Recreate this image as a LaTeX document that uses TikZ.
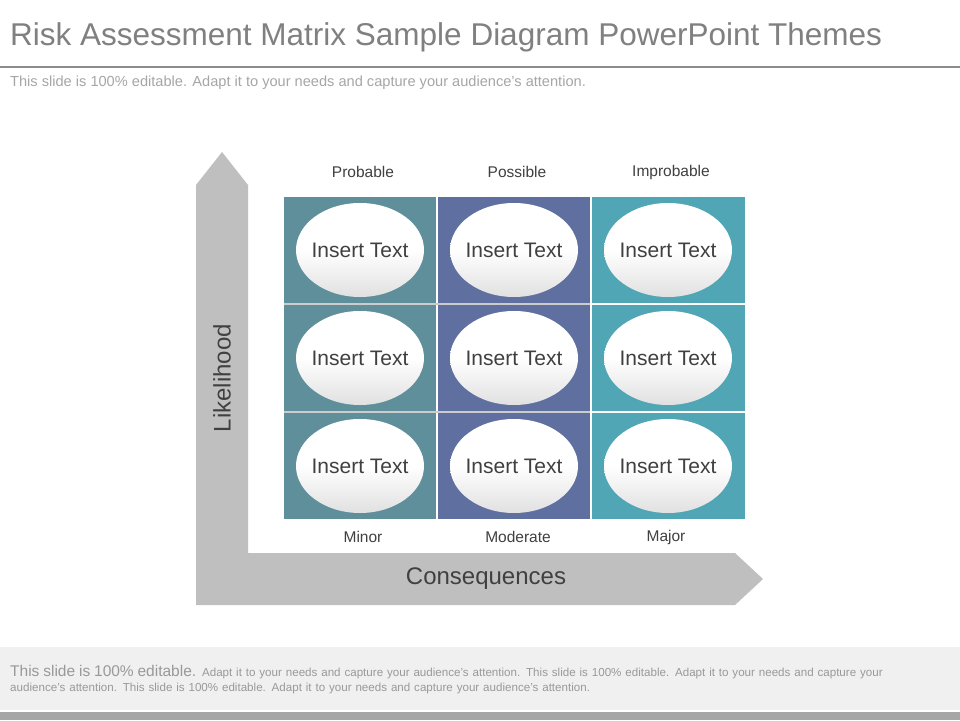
\documentclass[tikz,border=0pt]{standalone}
\usepackage{fontspec}
\setmainfont{Liberation Sans}
\usetikzlibrary{shapes.geometric}
\definecolor{cA}{HTML}{5F8F9B}
\definecolor{cB}{HTML}{5F6F9F}
\definecolor{cC}{HTML}{50A6B5}
\definecolor{gar}{HTML}{BFBFBF}
\definecolor{tx}{HTML}{404040}
\begin{document}
\begin{tikzpicture}[x=1pt,y=-1pt,
  oval/.style={ellipse,minimum width=128pt,minimum height=94pt,inner sep=0pt,top color=white,bottom color=black!12,middle color=white,draw=none},
  otext/.style={font=\fontsize{21}{21}\selectfont,text=tx},
  lab/.style={font=\fontsize{15.5}{15.5}\selectfont,text=tx}]
\useasboundingbox (0,0) rectangle (960,720);
\fill[white] (0,0) rectangle (960,720);
\node[anchor=west,text=black!50,font=\fontsize{31.5}{32}\selectfont,inner sep=0pt] (title) at (10,37) {Risk Assessment Matrix Sample Diagram PowerPoint Themes};
\draw[black!45,line width=2pt] (0,67) -- (960,67);
\node[anchor=west,text=black!35,font=\fontsize{14.6}{14.6}\selectfont,inner sep=0pt] (sub) at (10,83) {This slide is 100\% editable. Adapt it to your needs and capture your audience's attention.};
% L arrow
\fill[gar] (196,605) -- (196,185) -- (222,152) -- (248,185) -- (248,553) -- (735,553) -- (763,579) -- (735,605) -- cycle;
\node[rotate=90,font=\fontsize{24}{24}\selectfont,text=tx] (lk) at (222,378) {Likelihood};
\node[font=\fontsize{24}{24}\selectfont,text=tx] (cq) at (486,579) {Consequences};
% cells
\foreach \c/\x/\col in {0/284/cA,1/438/cB,2/592/cC}{
 \foreach \r/\y in {0/197,1/305,2/413}{
  \fill[\col] (\x,\y) rectangle ++(153,106);
 }}
\foreach \x in {437,591} \draw[white,line width=1.5pt] (\x,197) -- (\x,519);
\draw[white,line width=2pt] (592,304) -- (745,304) (592,412) -- (745,412);
\draw[black!20,line width=1.5pt] (284,304) -- (590,304) (284,412) -- (590,412);
\foreach \cx/\n in {360/a,514/b,668/c}{
 \foreach \cy/\m in {250/1,358/2,466/3}{
  \node[oval] (e\n\m) at (\cx,\cy) {};
  \node[otext] (t\n\m) at (e\n\m) {Insert Text};
 }}
\node[lab] (p1) at (363,172) {Probable};
\node[lab] (p2) at (517,172) {Possible};
\node[lab] (p3) at (671,172) {Improbable};
\node[lab] (m1) at (363,537) {Minor};
\node[lab] (m2) at (518,537) {Moderate};
\node[lab] (m3) at (666,537) {Major};
% footer
\fill[black!6] (0,647) rectangle (960,710);
\fill[black!35] (0,712) rectangle (960,720);
\node[anchor=north west,text width=895pt,text=black!40,font=\fontsize{11.6}{15.5}\selectfont,inner sep=0pt] (ft) at (10,665) {{\fontsize{15.5}{15.5}\selectfont This slide is 100\% editable.} Adapt it to your needs and capture your audience's attention. This slide is 100\% editable. Adapt it to your needs and capture your audience's attention. This slide is 100\% editable. Adapt it to your needs and capture your audience's attention.};
\end{tikzpicture}
\end{document}
